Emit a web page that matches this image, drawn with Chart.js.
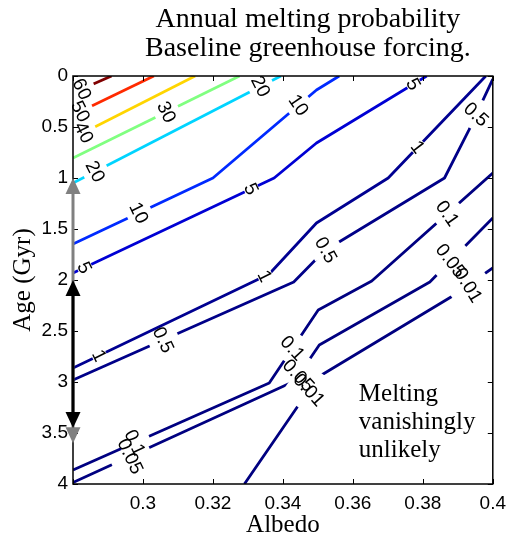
<!DOCTYPE html>
<html><head><meta charset="utf-8">
<script src="https://cdn.jsdelivr.net/npm/chart.js@4"></script>
<style>html,body{margin:0;padding:0;background:#fff}</style>
</head><body>
<canvas id="c" width="514" height="538"></canvas>
<script>
// ---- data (albedo, age in Gyr) ----
const xTicks = [0.28, 0.30, 0.32, 0.34, 0.36, 0.38, 0.40];
const yTicks = [0, 0.5, 1, 1.5, 2, 2.5, 3, 3.5, 4];
const levels = [60, 50, 40, 30, 20, 10, 5, 1, 0.5, 0.1, 0.05, 0.01];

const c60  = [[0.2800,0.167],[0.2910,0]];
const c50  = [[0.2800,0.382],[0.3031,0]];
const c40  = [[0.2800,0.608],[0.3149,0]];
const c30  = [[0.2800,0.804],[0.3276,0]];
const c20  = [[0.2800,1.049],[0.3394,0]];
const c10  = [[0.2800,1.647],[0.3200,1.000],[0.3496,0.137],[0.3561,0]];
const c5   = [[0.2800,1.931],[0.3375,1.000],[0.3496,0.657],[0.3811,0]];
const c1   = [[0.2800,2.863],[0.3361,1.941],[0.3496,1.441],[0.3701,1.000],[0.3980,0]];
const c05  = [[0.2800,2.980],[0.3431,2.020],[0.3518,1.716],[0.3749,1.235],[0.3862,1.000],[0.3932,0.529],[0.4000,0.030]];
const c01  = [[0.2800,3.863],[0.3361,3.010],[0.3501,2.294],[0.3654,2.010],[0.4000,0.951]];
const c005 = [[0.2800,3.986],[0.3434,2.990],[0.3504,2.637],[0.3820,2.020],[0.4000,1.392]];
const c001 = [[0.3290,4.000],[0.3445,3.225],[0.3501,2.951],[0.3890,2.147],[0.4000,1.882]];
const contourLines = [c60, c50, c40, c30, c20, c10, c5, c1, c05, c01, c005, c001];

// contour label spots: [level, albedo, age]
const labelSpots = [
  [60,0.2825,0.118],[50,0.2823,0.353],[40,0.2831,0.549],[30,0.3068,0.353],
  [20,0.2865,0.941],[20,0.3338,0.108],
  [10,0.2989,1.343],[10,0.3445,0.284],
  [5,0.2834,1.882],[5,0.3310,1.108],[5,0.3772,0.069],
  [1,0.2876,2.745],[1,0.3349,1.961],[1,0.3786,0.696],
  [0.5,0.3059,2.588],[0.5,0.3524,1.706],[0.5,0.3952,0.373],
  [0.1,0.2977,3.588],[0.1,0.3428,2.667],[0.1,0.3870,1.343],
  [0.05,0.2963,3.716],[0.05,0.3448,2.941],[0.05,0.3879,1.804],
  [0.01,0.3476,3.078],[0.01,0.3930,2.049]
];

// age ranges marked by arrows on the left axis
const grayArrow  = [1.0, 3.6];
const blackArrow = [2.0, 3.45];

const titleLines = ['Annual melting probability', 'Baseline greenhouse forcing.'];
const noteLines = ['Melting', 'vanishingly', 'unlikely'];

// ---- helpers ----
function jet(level){
  const t = level/60;
  const c = v => Math.round(255*Math.max(0, Math.min(1, v)));
  return `rgb(${c(1.5-Math.abs(4*t-3))},${c(1.5-Math.abs(4*t-2))},${c(1.5-Math.abs(4*t-1))})`;
}
function lineFor(level){ return contourLines[levels.indexOf(level)]; }

function drawArrow(ctx, x, y1, y2, color){
  const hl = 16, hw = 7.5;
  ctx.save();
  ctx.strokeStyle = color; ctx.fillStyle = color; ctx.lineWidth = 3;
  ctx.beginPath(); ctx.moveTo(x, y1 + hl - 1); ctx.lineTo(x, y2 - hl + 1); ctx.stroke();
  ctx.beginPath(); ctx.moveTo(x, y1); ctx.lineTo(x - hw, y1 + hl); ctx.lineTo(x + hw, y1 + hl); ctx.closePath(); ctx.fill();
  ctx.beginPath(); ctx.moveTo(x, y2); ctx.lineTo(x - hw, y2 - hl); ctx.lineTo(x + hw, y2 - hl); ctx.closePath(); ctx.fill();
  ctx.restore();
}

const extras = {
  id: 'contourExtras',
  afterDatasetsDraw(chart){
    const {ctx, chartArea: a, scales: {x, y}} = chart;
    const font = '19px "Liberation Sans", Arial, sans-serif';
    const spots = labelSpots.map(([lev, ax, ay]) => {
      const pts = lineFor(lev).map(p => [x.getPixelForValue(p[0]), y.getPixelForValue(p[1])]);
      const px = x.getPixelForValue(ax), py = y.getPixelForValue(ay);
      let best = {d: 1e9};
      for (let i = 0; i < pts.length - 1; i++){
        const [x1,y1] = pts[i], [x2,y2] = pts[i+1];
        const dx = x2-x1, dy = y2-y1;
        let t = ((px-x1)*dx + (py-y1)*dy)/(dx*dx+dy*dy);
        t = Math.max(0, Math.min(1, t));
        const qx = x1+t*dx, qy = y1+t*dy;
        const d = Math.hypot(px-qx, py-qy);
        if (d < best.d) best = {d, qx, qy, ang: Math.atan2(dy, dx)};
      }
      let ang = best.ang; if (Math.cos(ang) < 0) ang += Math.PI;
      return {txt: String(lev), x: best.qx, y: best.qy, ang};
    });
    ctx.save();
    ctx.beginPath(); ctx.rect(a.left, a.top, a.right-a.left, a.bottom-a.top); ctx.clip();
    ctx.font = font;
    spots.forEach(s => {
      const w = ctx.measureText(s.txt).width;
      ctx.save(); ctx.translate(s.x, s.y); ctx.rotate(s.ang);
      ctx.fillStyle = '#fff'; ctx.fillRect(-w/2 - 2, -4.5, w + 4, 9);
      ctx.restore();
    });
    ctx.restore();
    ctx.save();
    ctx.font = font; ctx.fillStyle = '#000'; ctx.textAlign = 'center'; ctx.textBaseline = 'middle';
    spots.forEach(s => {
      const deg = s.ang*180/Math.PI;
      const rot = (78 + 0.55*deg)*Math.PI/180;
      ctx.save(); ctx.translate(s.x, s.y); ctx.rotate(rot); ctx.fillText(s.txt, 0, 1); ctx.restore();
    });
    ctx.restore();
    ctx.save();
    ctx.strokeStyle = '#000'; ctx.lineWidth = 1.5;
    ctx.strokeRect(a.left, a.top, a.right-a.left, a.bottom-a.top);
    ctx.lineWidth = 1;
    ctx.beginPath();
    xTicks.forEach(v => {
      const px = Math.round(x.getPixelForValue(v)) + 0.5;
      ctx.moveTo(px, a.bottom); ctx.lineTo(px, a.bottom - 5);
      ctx.moveTo(px, a.top); ctx.lineTo(px, a.top + 5);
    });
    yTicks.forEach(v => {
      const py = Math.round(y.getPixelForValue(v)) + 0.5;
      ctx.moveTo(a.left, py); ctx.lineTo(a.left + 5, py);
      ctx.moveTo(a.right, py); ctx.lineTo(a.right - 5, py);
    });
    ctx.stroke();
    ctx.restore();
    const ax = x.getPixelForValue(0.28);
    drawArrow(ctx, ax, y.getPixelForValue(grayArrow[0]), y.getPixelForValue(grayArrow[1]), '#808080');
    drawArrow(ctx, ax, y.getPixelForValue(blackArrow[0]), y.getPixelForValue(blackArrow[1]), '#000');
  },
  afterDraw(chart){
    const {ctx, chartArea: a, scales: {x, y}} = chart;
    const serif = '"Liberation Serif", "Times New Roman", serif';
    ctx.save();
    ctx.fillStyle = '#000';
    ctx.textBaseline = 'alphabetic';
    ctx.font = '28px ' + serif; ctx.textAlign = 'center';
    const tcx = (a.left + a.right)/2 + 25;
    ctx.fillText(titleLines[0], tcx, 27);
    ctx.fillText(titleLines[1], tcx, 56);
    ctx.font = '25px ' + serif;
    ctx.fillText('Albedo', (a.left + a.right)/2, 532);
    ctx.save();
    ctx.translate(30, (a.top + a.bottom)/2); ctx.rotate(-Math.PI/2);
    ctx.fillText('Age (Gyr)', 0, 0);
    ctx.restore();
    ctx.textAlign = 'left';
    const nx = x.getPixelForValue(0.3617);
    noteLines.forEach((t, i) => ctx.fillText(t, nx, y.getPixelForValue(3.19) + i*28));
    ctx.restore();
  }
};

const tickFont = {family: '"Liberation Sans", Arial, sans-serif', size: 19};
new Chart(document.getElementById('c'), {
  type: 'scatter',
  data: {
    datasets: contourLines.map((pts, i) => ({
      label: String(levels[i]),
      data: pts.map(p => ({x: p[0], y: p[1]})),
      showLine: true, borderColor: jet(levels[i]), borderWidth: 2.8,
      pointRadius: 0, fill: false, tension: 0, borderJoinStyle: 'round'
    }))
  },
  options: {
    responsive: false, animation: false, events: [],
    layout: {padding: {left: 0, right: 16, top: 76, bottom: 0}},
    plugins: {legend: {display: false}, title: {display: false}, tooltip: {enabled: false}},
    scales: {
      x: {
        type: 'linear', min: 0.28, max: 0.4,
        grid: {display: false, drawTicks: false}, border: {display: false},
        afterBuildTicks: s => { s.ticks = xTicks.map(v => ({value: v})); },
        afterFit: s => { s.height = 54; },
        ticks: {padding: 8, color: '#000', font: tickFont, autoSkip: false, maxRotation: 0,
          callback: v => (Math.abs(v - 0.28) < 1e-9 ? '' : String(+v.toFixed(2)))}
      },
      y: {
        type: 'linear', min: 0, max: 4, reverse: true,
        grid: {display: false, drawTicks: false}, border: {display: false},
        afterBuildTicks: s => { s.ticks = yTicks.map(v => ({value: v})); },
        afterFit: s => { s.width = 73; },
        ticks: {padding: 5, color: '#000', font: tickFont, autoSkip: false,
          callback: v => String(+v.toFixed(1))}
      }
    }
  },
  plugins: [extras]
});
</script>
</body></html>
